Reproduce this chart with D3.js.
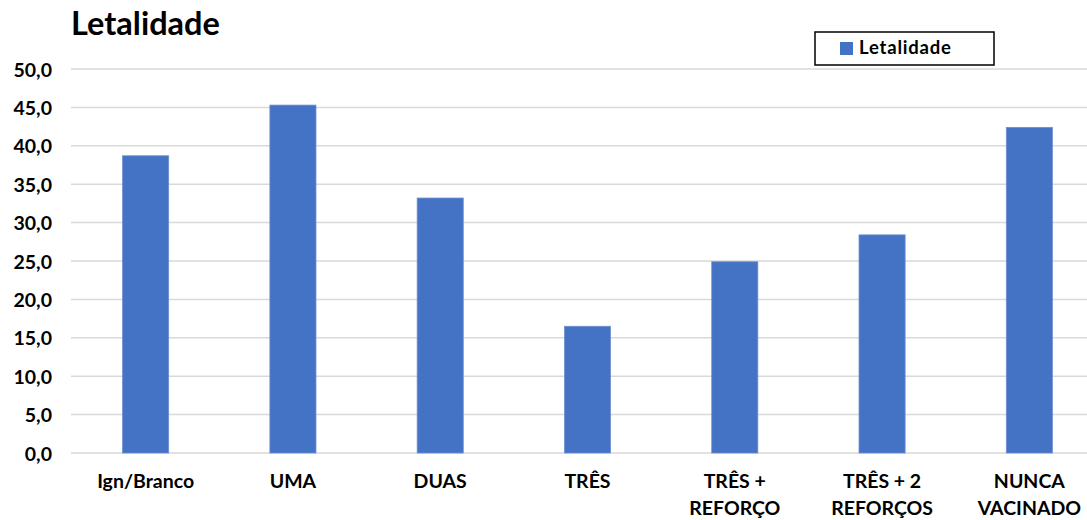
<!DOCTYPE html>
<html><head><meta charset="utf-8">
<script src="https://cdn.jsdelivr.net/npm/d3@7/dist/d3.min.js"></script>
<style>body{margin:0;background:#fff}svg{display:block}text{font-family:Lato,"Open Sans",sans-serif;font-weight:bold;fill:#000}</style>
</head><body><svg id="c" width="1087" height="520"></svg>
<script>
const categories = [["Ign/Branco"],["UMA"],["DUAS"],["TRÊS"],["TRÊS +","REFORÇO"],["TRÊS + 2","REFORÇOS"],["NUNCA","VACINADO"]];
const values = [38.7, 45.3, 33.2, 16.5, 24.9, 28.4, 42.4];
const yTicks = [0,5,10,15,20,25,30,35,40,45,50];
const seriesName = "Letalidade";
const title = "Letalidade";

const svg = d3.select("#c");
const x = d3.scaleBand().domain(categories.map((d,i)=>i)).range([72,1103]).paddingInner(0.687).paddingOuter(0.3435);
const y = d3.scaleLinear().domain([0,50]).range([453,69]);

// gridlines
svg.append("g").selectAll("line").data(yTicks).join("line")
  .attr("x1",71).attr("x2",1103).attr("y1",d=>y(d)).attr("y2",d=>y(d))
  .attr("stroke","#d9d9d9").attr("stroke-width",1.5);

// y axis labels
const yAxis = d3.axisLeft(y).tickValues(yTicks).tickSize(0).tickPadding(0)
  .tickFormat(d=>d.toFixed(1).replace(".",","));
const ga = svg.append("g").attr("transform","translate(52,0)").call(yAxis);
ga.select(".domain").remove();
ga.selectAll("text").attr("font-size",19.5).attr("font-family","Lato").attr("font-weight","bold").attr("fill","#000").attr("dy","0.36em");

// bars
svg.append("g").selectAll("rect").data(values).join("rect")
  .attr("x",(d,i)=>x(i)).attr("width",x.bandwidth())
  .attr("y",d=>y(d)).attr("height",d=>y(0)-y(d))
  .attr("fill","#4472c4").attr("stroke","#6d8fd0").attr("stroke-width",0.8);

// x labels
const gx = svg.append("g");
categories.forEach((lines,i)=>{
  const t = gx.append("text").attr("text-anchor","middle").attr("font-size",19.5)
    .attr("x",x(i)+x.bandwidth()/2).attr("y",488);
  lines.forEach((l,j)=>t.append("tspan").attr("x",x(i)+x.bandwidth()/2).attr("dy",j?26.5:0).text(l));
});

// title
svg.append("text").attr("x",71).attr("y",35).attr("font-size",32.5).text(title);

// legend
svg.append("rect").attr("x",815).attr("y",32).attr("width",179).attr("height",33)
  .attr("fill","#fff").attr("stroke","#000").attr("stroke-width",1.5);
svg.append("rect").attr("x",840).attr("y",42).attr("width",13).attr("height",13).attr("fill","#4472c4");
svg.append("text").attr("x",859).attr("y",54).attr("font-size",18.5).attr("letter-spacing",0.8).text(seriesName);
</script></body></html>
